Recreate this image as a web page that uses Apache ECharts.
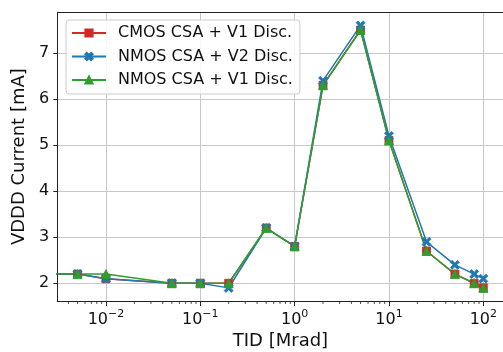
<!DOCTYPE html>
<html lang="en">
<head>
    <meta charset="UTF-8">
    <title>VDDD Current vs TID</title>
    <script src="https://cdn.jsdelivr.net/npm/echarts@6/dist/echarts.min.js"></script>
    <style>
        html,
        body {
            margin: 0;
            padding: 0;
            background: #fff;
        }

        #chart {
            width: 503px;
            height: 352px;
        }
    </style>
</head>
<body>
    <div id="chart"></div>
    <script>
        // TID doses [Mrad]; first point stands for 0 Mrad (off the left of the log axis)
        var tid = [0.0001, 0.005, 0.01, 0.05, 0.1, 0.2, 0.5, 1, 2, 5, 10, 25, 50, 80, 100];
        var cmosV1 = [2.2, 2.2, 2.1, 2.0, 2.0, 2.0, 3.2, 2.8, 6.3, 7.5, 5.1, 2.7, 2.2, 2.0, 1.9];
        var nmosV2 = [2.2, 2.2, 2.1, 2.0, 2.0, 1.9, 3.2, 2.8, 6.4, 7.6, 5.2, 2.9, 2.4, 2.2, 2.1];
        var nmosV1 = [2.2, 2.2, 2.2, 2.0, 2.0, 2.0, 3.2, 2.8, 6.3, 7.5, 5.1, 2.7, 2.2, 2.0, 1.9];
        var seriesNames = ['CMOS CSA + V1 Disc.', 'NMOS CSA + V2 Disc.', 'NMOS CSA + V1 Disc.'];
        var decades = [0.001, 0.01, 0.1, 1, 10, 100];

        var FONT = 'DejaVu Sans';
        var X_MIN = 0.00305, X_MAX = 164.1;
        var Y_MIN = 1.615, Y_MAX = 7.885;
        var xMarker = 'path://M2,0 L5,3 L8,0 L10,2 L7,5 L10,8 L8,10 L5,7 L2,10 L0,8 L3,5 L0,2 Z';

        function pairs(vals) {
            return tid.map(function(t, i) { return [t, vals[i]]; });
        }

        // minor tick positions for the log axis
        var minorTicks = [];
        decades.forEach(function(d) {
            for (var k = 2; k < 10; k++) {
                var v = d * k;
                if (v > X_MIN && v < X_MAX) minorTicks.push([v, Y_MIN]);
            }
        });

        function lineSeries(name, vals, color, symbol, size) {
            return {
                name: name,
                type: 'line',
                data: pairs(vals),
                symbol: symbol,
                symbolSize: size,
                showAllSymbol: true,
                animation: false,
                lineStyle: { color: color, width: 1.5 },
                itemStyle: { color: color, borderColor: color, borderWidth: 0.8 },
                emphasis: { disabled: true }
            };
        }

        var chart = echarts.init(document.getElementById('chart'));
        chart.setOption({
            animation: false,
            grid: { left: 57.3, top: 12.3, width: 446.3, height: 288.7, outerBoundsMode: 'none', containLabel: false },
            legend: {
                left: 66,
                top: 20,
                orient: 'vertical',
                data: seriesNames,
                itemWidth: 34,
                itemHeight: 9,
                itemGap: 7.5,
                padding: [5, 7, 6, 5],
                backgroundColor: 'rgba(255,255,255,0.85)',
                borderColor: '#cccccc',
                borderWidth: 1,
                borderRadius: 3,
                textStyle: { fontFamily: FONT, fontSize: 16, color: '#111', padding: [0, 0, 0, 7] }
            },
            xAxis: {
                type: 'log',
                logBase: 10,
                min: X_MIN,
                max: X_MAX,
                name: 'TID [Mrad]',
                nameLocation: 'middle',
                nameGap: 29,
                nameTextStyle: { fontFamily: FONT, fontSize: 18, color: '#111' },
                axisLine: { onZero: false, lineStyle: { color: '#222', width: 1 } },
                axisTick: { length: 5, lineStyle: { color: '#222' } },
                splitLine: { show: true, lineStyle: { color: '#c8c8c8', width: 1 } },
                axisLabel: {
                    showMinLabel: false,
                    showMaxLabel: false,
                    margin: 8,
                    fontFamily: FONT,
                    fontSize: 16,
                    color: '#111',
                    formatter: function(v) {
                        var e = Math.round(Math.log10(v));
                        return '10{sup|' + String(e).replace('-', '\u2212') + '}';
                    },
                    rich: {
                        sup: { fontFamily: FONT, fontSize: 11, verticalAlign: 'bottom', padding: [0, 0, 10, 0], color: '#111' }
                    }
                }
            },
            yAxis: {
                type: 'value',
                min: Y_MIN,
                max: Y_MAX,
                splitNumber: 6,
                name: 'VDDD Current [mA]',
                nameLocation: 'middle',
                nameGap: 27,
                nameTextStyle: { fontFamily: FONT, fontSize: 18, color: '#111' },
                axisLine: { show: true, lineStyle: { color: '#222', width: 1 } },
                axisTick: { show: true, length: 4, lineStyle: { color: '#222' } },
                splitLine: { show: true, lineStyle: { color: '#c8c8c8', width: 1 } },
                axisLabel: {
                    showMinLabel: false,
                    showMaxLabel: false,
                    margin: 8,
                    fontFamily: FONT,
                    fontSize: 16,
                    color: '#111'
                }
            },
            series: [
                lineSeries(seriesNames[0], cmosV1, '#d62728', 'rect', 8),
                lineSeries(seriesNames[1], nmosV2, '#1f77b4', xMarker, 9),
                lineSeries(seriesNames[2], nmosV1, '#2ca02c', 'triangle', 9),
                {
                    type: 'custom',
                    silent: true,
                    clip: false,
                    data: minorTicks,
                    renderItem: function(params, api) {
                        var p = api.coord([api.value(0), api.value(1)]);
                        return {
                            type: 'line',
                            shape: { x1: p[0], y1: p[1], x2: p[0], y2: p[1] + 3 },
                            style: { stroke: '#222', lineWidth: 0.8 }
                        };
                    }
                },
                {
                    // top frame line
                    type: 'line',
                    silent: true,
                    symbol: 'none',
                    data: [],
                    markLine: {
                        silent: true,
                        symbol: 'none',
                        label: { show: false },
                        lineStyle: { color: '#222', width: 1, type: 'solid' },
                        data: [{ yAxis: Y_MAX }]
                    }
                }
            ]
        });
    </script>
</body>
</html>
